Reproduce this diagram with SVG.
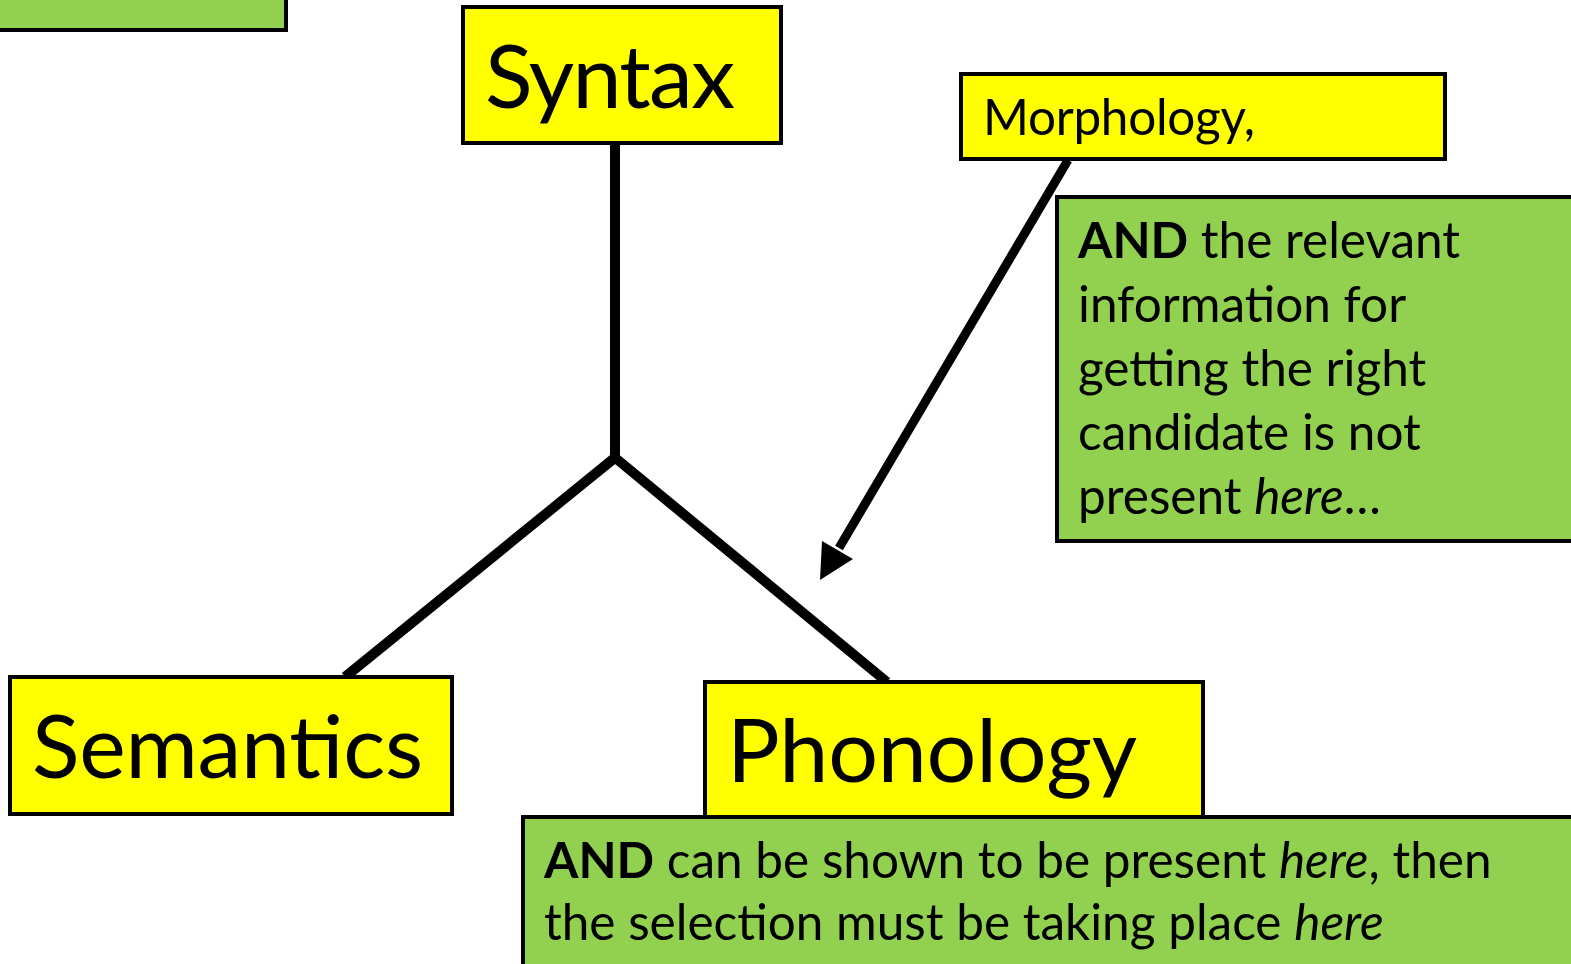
<svg xmlns="http://www.w3.org/2000/svg" width="1571" height="964" viewBox="0 0 1571 964">
<style>
.y{fill:#FFFF00;stroke:#000;stroke-width:4}
.g{fill:#92D050;stroke:#000;stroke-width:4}
text{font-family:Lato,"Open Sans","Liberation Sans",sans-serif;fill:#000}
.big{font-size:88px}
.mid{font-size:49.5px}
.conn{stroke:#000;stroke-width:10;fill:none}
.arr{stroke:#000;stroke-width:9;fill:none}
</style>
<g id="corner-note"><rect class="g" x="-10" y="-10" width="296" height="40"/></g>
<g id="connectors">
<line class="conn" x1="615" y1="143" x2="615" y2="459"/>
<line class="conn" x1="617" y1="456" x2="345" y2="677"/>
<line class="conn" x1="613" y1="456" x2="887" y2="682"/>
<line class="arr" x1="1068" y1="160" x2="839" y2="548"/>
<polygon points="820,580 822,541 853,559" fill="#000"/>
</g>
<g id="syntax"><rect class="y" x="463" y="7" width="318" height="136"/>
<text class="big" x="485" y="108" textLength="250">Syntax</text></g>
<g id="morphology"><rect class="y" x="961" y="74" width="484" height="85"/>
<text class="mid" x="983" y="135" textLength="272">Morphology,</text></g>
<g id="semantics"><rect class="y" x="10" y="677" width="442" height="137"/>
<text class="big" x="32" y="778" textLength="391">Semantics</text></g>
<g id="phonology"><rect class="y" x="705" y="682" width="498" height="136"/>
<text class="big" x="727" y="782" textLength="410">Phonology</text></g>
<g id="note-right"><rect class="g" x="1057" y="197" width="530" height="344"/>
<text class="mid" x="1078" y="258"><tspan font-weight="bold">AND</tspan> the relevant</text>
<text class="mid" x="1078" y="322">information for</text>
<text class="mid" x="1078" y="386">getting the right</text>
<text class="mid" x="1078" y="450">candidate is not</text>
<text class="mid" x="1078" y="514">present <tspan font-style="italic">here</tspan>…</text></g>
<g id="note-bottom"><rect class="g" x="523" y="817" width="1070" height="160"/>
<text class="mid" x="544" y="878"><tspan font-weight="bold">AND</tspan> can be shown to be present <tspan font-style="italic">here</tspan>, then</text>
<text class="mid" x="544" y="940">the selection must be taking place <tspan font-style="italic">here</tspan></text></g>
</svg>
